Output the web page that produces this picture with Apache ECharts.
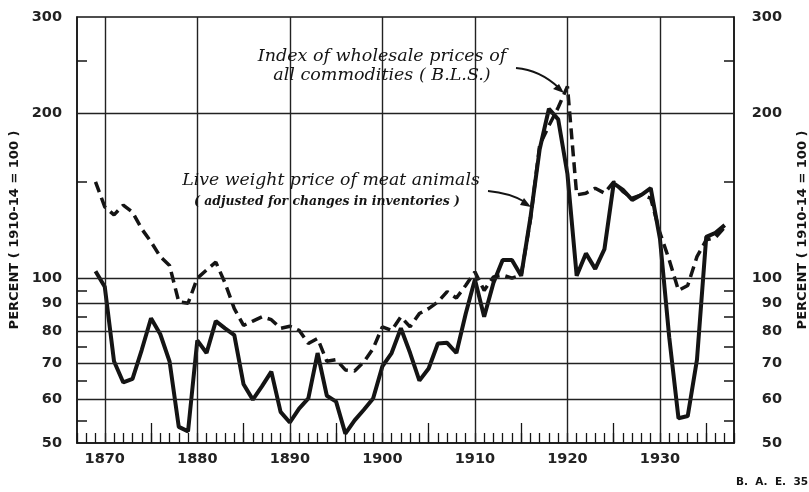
<!DOCTYPE html>
<html>
<head>
<meta charset="utf-8">
<script src="https://cdn.jsdelivr.net/npm/echarts@6/dist/echarts.min.js"></script>
<style>
html,body{margin:0;padding:0;background:#fff;}
#chart{width:809px;height:492px;}
</style>
</head>
<body>
<div id="chart"></div>
<script>
// ---- data ----
var years = [1869,1870,1871,1872,1873,1874,1875,1876,1877,1878,1879,1880,1881,1882,1883,1884,1885,1886,1887,1888,1889,1890,1891,1892,1893,1894,1895,1896,1897,1898,1899,1900,1901,1902,1903,1904,1905,1906,1907,1908,1909,1910,1911,1912,1913,1914,1915,1916,1917,1918,1919,1920,1921,1922,1923,1924,1925,1926,1927,1928,1929,1930,1931,1932,1933,1934,1935,1936,1937];
var meatAnimals = [103,96.5,70.5,64.5,65.5,74,84.5,79,70.5,53.5,52.5,77,73,83.5,81,78.7,64,60,63.5,67.5,57,54.5,57.8,60.3,73,61,59.5,52,55,57.5,60.3,69,73,81,73,65,68.4,76,76.2,73,86,99.5,85,98,108,108,101,129,172,204,195,155,101,111,104,113,149,145,139,142,146,118,78,55.5,56,71,119,121,125];
var wholesale = [150,135,130.5,136,132,123,116.5,109.5,105.5,90.5,90,100,103.5,107,98,88,82,83.5,85,84,81,81.7,80.3,76,77.6,70.5,71,68,67.7,70.3,74.4,81.5,80.3,85,81.5,86.2,88,90.5,94.5,92,97,102.7,95,100.5,101.3,100,101.3,128,175,190,205,224,142,143,146,143,150,144,140,142,140,121,108,95,97,109.5,117.5,118.7,124];
var yLabelValues = [50,60,70,80,90,100,200,300];
var yGridValues = [60,70,80,90,100,200];
var yMinorTicks = [55,65,75,85,95,150,250];
var xLabelValues = [1870,1880,1890,1900,1910,1920,1930];
var xFiveYearTicks = [1875,1885,1895,1905,1915,1925,1935];
var yAxisTitle = 'PERCENT ( 1910-14 = 100 )';
var wholesaleLabel = ['Index of wholesale prices of', 'all commodities ( B.L.S.)'];
var meatLabel = 'Live weight price of meat animals';
var meatSubLabel = '( adjusted for changes in inventories )';
var sourceNote = 'B.  A.  E.  35';

function pairs(xs, ys){ var o=[]; for(var i=0;i<xs.length;i++){o.push([xs[i], ys[i]]);} return o; }

var ink = '#141414';

var chart = echarts.init(document.getElementById('chart'), null, {renderer:'canvas'});
var yAxisBase = function(pos, margin, align, nameGap){
  return {
    type:'log', logBase:10, min:50, max:300, position:pos,
    axisLine:{show:true, lineStyle:{color:ink, width:1.5}},
    axisTick:{show:true, inside:true, length:10, customValues:yMinorTicks, lineStyle:{color:ink, width:1.5}},
    axisLabel:{show:true, customValues:yLabelValues, margin:margin, align:align,
      fontFamily:'DejaVu Sans', fontWeight:'bold', fontSize:14.5, color:'#222', formatter:function(v){return String(Math.round(v));}},
    splitLine:{show:false},
    name:yAxisTitle, nameLocation:'middle', nameRotate:90, nameGap:nameGap,
    nameTextStyle:{fontFamily:'DejaVu Sans', fontWeight:'bold', fontSize:13, color:ink}
  };
};

var option = {
  animation:false,
  backgroundColor:'#ffffff',
  grid:{left:77, right:75, top:17, bottom:49, containLabel:false, outerBoundsMode:'none',
    show:true, borderColor:ink, borderWidth:1.5, backgroundColor:'transparent'},
  xAxis:[{
    type:'value', min:1867, max:1938, interval:1,
    axisLine:{show:true, lineStyle:{color:ink, width:1.5}},
    axisTick:{show:true, inside:true, length:10, lineStyle:{color:ink, width:1.3}},
    axisLabel:{show:true, customValues:xLabelValues, margin:9, fontFamily:'DejaVu Sans', fontWeight:'bold', fontSize:14.5, color:'#222',
      formatter:function(v){return String(Math.round(v));}},
    splitLine:{show:false}
  },{
    type:'value', min:1867, max:1938, position:'bottom',
    axisLine:{show:false},
    axisTick:{show:true, inside:true, length:20, customValues:xFiveYearTicks, lineStyle:{color:ink, width:1.3}},
    axisLabel:{show:false},
    splitLine:{show:false}
  }],
  yAxis:[yAxisBase('left', 15, 'right', 48), yAxisBase('right', 48, 'right', 62)],
  series:[
    {
      type:'line', name:'grid', data:[[1867,50]], symbol:'none', silent:true, z:1,
      lineStyle:{opacity:0},
      markLine:{
        silent:true, symbol:['none','none'], label:{show:false},
        lineStyle:{color:'#222', width:1.4, type:'solid'},
        emphasis:{disabled:true},
        data: yGridValues.map(function(v){return {yAxis:v};}).concat(xLabelValues.map(function(v){return {xAxis:v};}))
      }
    },
    {
      type:'line', name:'Index of wholesale prices', data:pairs(years, wholesale),
      symbol:'none', z:3,
      lineStyle:{color:ink, width:3.5, type:[11,6]}
    },
    {
      type:'line', name:'Live weight price of meat animals', data:pairs(years, meatAnimals),
      symbol:'none', z:4,
      lineStyle:{color:ink, width:4}
    }
  ],
  graphic:[
    {type:'text', style:{text:wholesaleLabel.join('\n'), x:382, y:47, align:'center', verticalAlign:'top', lineHeight:19, fontFamily:'DejaVu Serif', fontStyle:'italic', fontSize:17.5, fill:ink}, z:10},
    {type:'text', style:{text:meatLabel, x:331, y:181, align:'center', verticalAlign:'middle', fontFamily:'DejaVu Serif', fontStyle:'italic', fontSize:17.3, fill:ink}, z:10},
    {type:'text', style:{text:meatSubLabel, x:327, y:202, align:'center', verticalAlign:'middle', fontFamily:'DejaVu Serif', fontStyle:'italic', fontWeight:'bold', fontSize:12.4, fill:ink}, z:10},
    {type:'bezierCurve', shape:{x1:516, y1:68, cpx1:540, cpy1:70, x2:559, y2:88}, style:{stroke:ink, lineWidth:2, fill:null}, z:10},
    {type:'polygon', shape:{points:[[564,93],[553,89],[559,84]]}, style:{fill:ink}, z:10},
    {type:'bezierCurve', shape:{x1:488, y1:191, cpx1:510, cpy1:193, x2:525, y2:202}, style:{stroke:ink, lineWidth:2, fill:null}, z:10},
    {type:'polygon', shape:{points:[[531,207],[520,205],[524,198]]}, style:{fill:ink}, z:10},
    {type:'text', style:{text:sourceNote, x:808, y:482, align:'right', verticalAlign:'middle', fontFamily:'DejaVu Sans', fontWeight:'bold', fontSize:10.5, fill:ink}, z:10}
  ]
};
chart.setOption(option);
</script>
</body>
</html>
